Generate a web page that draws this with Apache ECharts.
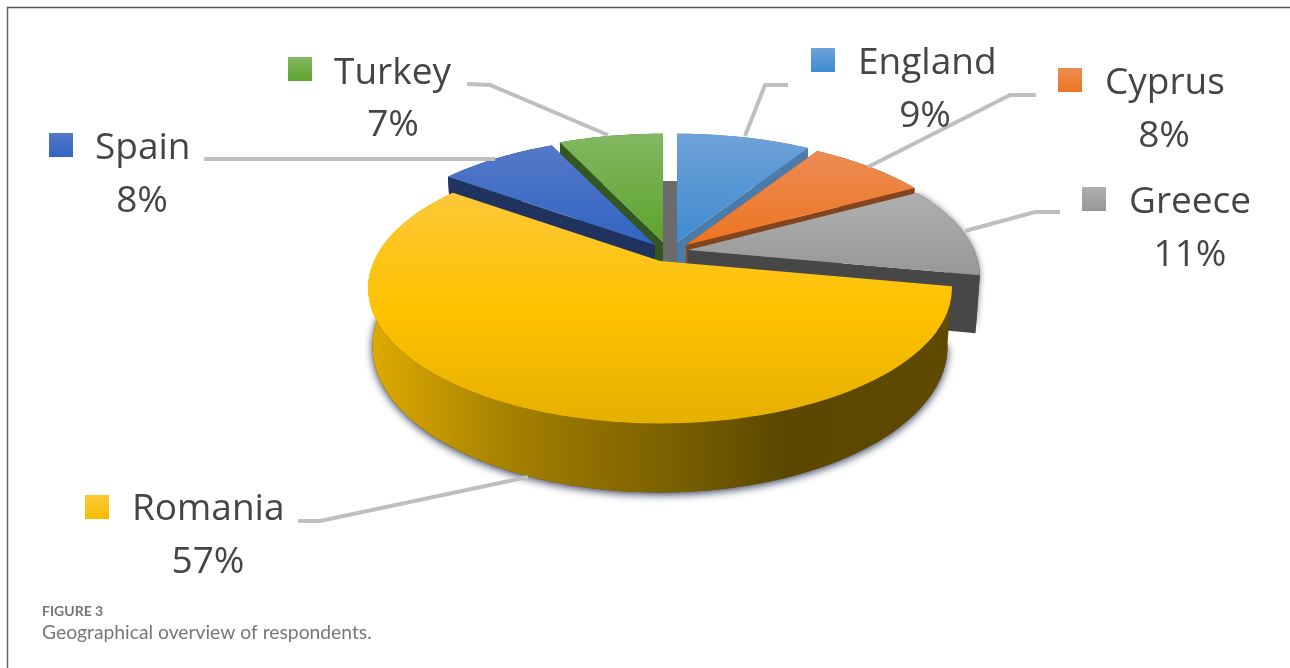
<!DOCTYPE html>
<html>
<head>
<meta charset="utf-8">
<title>Geographical overview of respondents</title>
<style>html,body{margin:0;padding:0;background:#fff}#chart{width:1290px;height:668px}</style>
<script src="https://cdn.jsdelivr.net/npm/echarts@6/dist/echarts.min.js"></script>
</head>
<body>
<div id="chart"></div>
<script>
// Survey shares, clockwise from twelve o'clock
const categories = ['England', 'Cyprus', 'Greece', 'Romania', 'Spain', 'Turkey'];
const shares = [9, 8, 11, 57, 8, 7];

// Back-to-front order in which the wedges are painted
const paintOrder = [5, 4, 0, 1, 2, 3];

// Perspective disc: centre, radii, foreshortening and thickness
const CX = 660, CY = 261, RX = 286, RY = 130, PERSP = 0.2, DEPTH = 56;
const BASE_X = 0.985, BASE_Y = 1.08;

// How far each wedge is pulled out of the pie, in pixels
const explode = [[17, -19], [26, -16], [28, -11], [0, 0], [-5, -16], [3, -19]];

// Wedge colours: top face gradient, cut face, swatch
const topColors = [
  ['#6ea2d8', '#3f8bd1'], ['#ec8c54', '#ee7420'], ['#b0b0b0', '#979797'],
  ['#fdc838', '#ffc200', '#e6b000'], ['#5479c8', '#3264c2'], ['#82b862', '#5ea22e']
];
const wallColors = ['#4b7ba8', '#84441c', '#474747', '#5c4800', '#20335e', '#345620'];
const rimStops = [
  [0, '#dfab00'], [0.22, '#a98400'], [0.4, '#8c6d00'], [0.52, '#7c6100'],
  [0.72, '#5b4700'], [1, '#5f4a00']
];

// Label block placement: swatch corner, name start, share centre
const swatchAt = [[811, 48], [1058, 68], [1082, 187], [85, 495], [49, 133], [288, 57]];
const nameAt = [[858, 62], [1105, 82], [1129, 201], [132, 508], [95, 147], [334, 72]];
const shareAt = [[925, 115], [1164, 135], [1190, 254], [208, 561], [142, 200], [393, 124]];
const leaders = [
  [[788, 85], [765, 85], [745, 136]],
  [[1036, 95], [1010, 95], [868, 167]],
  [[1060, 212], [1035, 212], [965, 231]],
  [[298, 521], [320, 521], [528, 477]],
  [[204, 159], [495, 159]],
  [[467, 84], [490, 85], [608, 135]]
];

const TEXT_FONT = '"Open Sans", sans-serif';
const total = shares.reduce((a, b) => a + b, 0);
const starts = shares.map((_, i) => shares.slice(0, i).reduce((a, b) => a + b, 0));

// Project a point on the rim (or apex when r = 0) onto the screen
function project(theta, off, base, r) {
  const radius = r === undefined ? 1 : r;
  const u = Math.sin(theta) * radius, v = Math.cos(theta) * radius, w = 1 + PERSP * v;
  return base
    ? [CX + off[0] + RX * BASE_X * u / w, CY + off[1] + DEPTH - RY * BASE_Y * v / w]
    : [CX + off[0] + RX * u / w, CY + off[1] - RY * v / w];
}

function arcPoints(a0, a1, off, base) {
  const n = Math.max(8, Math.ceil((a1 - a0) * 40));
  const pts = [];
  for (let k = 0; k <= n; k++) pts.push(project(a0 + (a1 - a0) * k / n, off, base));
  return pts;
}

function verticalGradient(colors) {
  const stops = colors.map((c, k) => ({ offset: k / (colors.length - 1), color: c }));
  return new echarts.graphic.LinearGradient(0, 0, 0, 1, stops);
}

function renderWedge(params, api) {
  const i = api.value(0);
  const order = paintOrder.indexOf(i);
  const a0 = starts[i] / total * Math.PI * 2;
  const a1 = (starts[i] + api.value(1)) / total * Math.PI * 2;
  const off = explode[i];
  const apexTop = project(0, off, false, 0), apexBase = project(0, off, true, 0);
  const topArc = arcPoints(a0, a1, off, false), baseArc = arcPoints(a0, a1, off, true);
  const children = [];
  const poly = (points, fill, z, extra) => children.push({
    type: 'polygon', z2: order * 10 + z, shape: { points },
    style: Object.assign({ fill }, extra || {})
  });

  if (i === 3) {
    // Large front wedge: soft shadow under a rim shaded from left to right
    const rim = topArc.concat(baseArc.slice().reverse());
    const rimFill = new echarts.graphic.LinearGradient(370, 0, 947, 0,
      rimStops.map(s => ({ offset: s[0], color: s[1] })), true);
    poly(baseArc, '#5a4700', 0, {
      shadowBlur: 8, shadowColor: 'rgba(40,50,80,0.95)', shadowOffsetX: 0, shadowOffsetY: 2
    });
    poly(rim, rimFill, 1);
    poly(topArc.concat([apexTop]), verticalGradient(topColors[i]), 3);
  } else {
    const wall = wallColors[i];
    poly([apexTop, topArc[0], baseArc[0], apexBase], wall, 1);
    poly(topArc.concat(baseArc.slice().reverse()), wall, 1);
    poly([apexTop, topArc[topArc.length - 1], baseArc[baseArc.length - 1], apexBase], wall, 1);
    if (i === 2) {
      // Greece stands clear of the front wedge, so its wall casts a shadow too
      children[children.length - 2].style.shadowBlur = 6;
      children[children.length - 2].style.shadowColor = 'rgba(60,60,70,0.7)';
    }
    poly(topArc.concat([apexTop]), verticalGradient(topColors[i]), 3);
  }
  if (i === 0) {
    // Far wall seen through the gap between Turkey and England
    const a = project(0, explode[5], true), b = project(0, off, true);
    const front = project(0, explode[3], false, 0)[1] + 4;
    poly([a, b, [b[0], front], [a[0], front]], '#6b6b6b', 2);
  }

  // Leader line, swatch and label block
  const topLayer = 100;
  children.push({
    type: 'polyline', z2: topLayer, shape: { points: leaders[i] },
    style: { fill: null, stroke: '#bfbfbf', lineWidth: 4 }
  });
  children.push({
    type: 'rect', z2: topLayer,
    shape: { x: swatchAt[i][0], y: swatchAt[i][1], width: 24, height: 24 },
    style: { fill: verticalGradient(i === 3 ? ['#fdc838', '#f8bb00'] : topColors[i]) }
  });
  children.push({
    type: 'text', z2: topLayer + 1, x: nameAt[i][0], y: nameAt[i][1] + 1,
    style: {
      text: categories[i], fill: '#454545', font: '37px ' + TEXT_FONT,
      textAlign: 'left', textVerticalAlign: 'middle'
    }
  });
  children.push({
    type: 'text', z2: topLayer + 1, x: shareAt[i][0], y: shareAt[i][1] + 1,
    style: {
      text: api.value(1) + '%', fill: '#454545', font: '37px ' + TEXT_FONT,
      textAlign: 'center', textVerticalAlign: 'middle'
    }
  });
  return { type: 'group', children };
}

const chart = echarts.init(document.getElementById('chart'));
chart.setOption({
  animation: false,
  backgroundColor: '#ffffff',
  graphic: [
    { type: 'line', shape: { x1: 7.5, y1: 7, x2: 7.5, y2: 668 }, style: { stroke: '#666666', lineWidth: 1.5 } },
    { type: 'line', shape: { x1: 7, y1: 7.5, x2: 1290, y2: 7.5 }, style: { stroke: '#555555', lineWidth: 1.5 } },
    {
      type: 'text', x: 42, y: 604,
      style: { text: 'FIGURE 3', fill: '#757575', font: 'bold 14px Lato, sans-serif' }
    },
    {
      type: 'text', x: 42, y: 623,
      style: { text: 'Geographical overview of respondents.', fill: '#777777', font: '19.3px Lato, sans-serif' }
    }
  ],
  series: [{
    type: 'custom',
    coordinateSystem: 'none',
    renderItem: renderWedge,
    data: paintOrder.map(i => [i, shares[i]])
  }]
});
</script>
</body>
</html>
